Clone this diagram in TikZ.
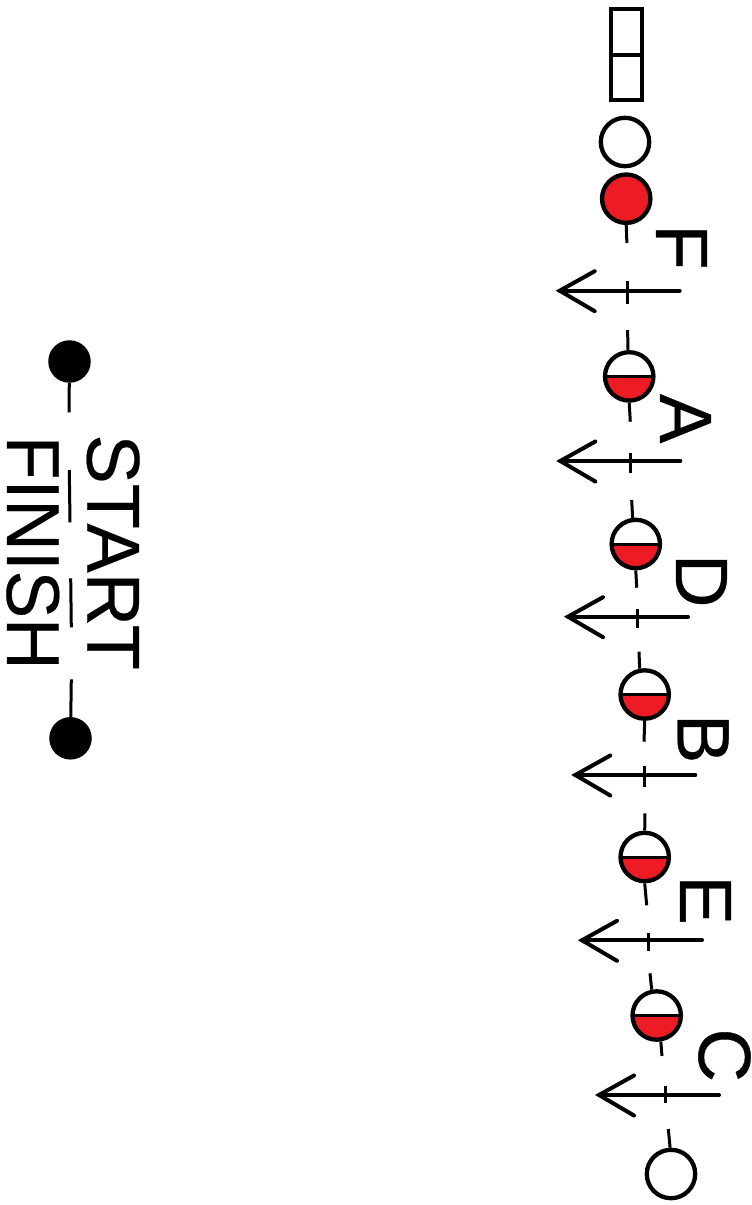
\documentclass[tikz,border=0pt]{standalone}
\usepackage{fontspec}
\setmainfont{Liberation Sans}
\newfontfamily\wordfont[FakeBold=0.3]{Liberation Sans}
\newfontfamily\letterfont[FakeBold=0.5]{Liberation Sans}
\definecolor{fillred}{HTML}{ED1C24}
\tikzset{
  ring/.style={circle,draw=black,line width=4.3pt,minimum size=48.4pt,inner sep=0pt,fill=white},
  fullred/.style={ring,fill=fillred},
  halfred/.style={ring,path picture={
    \fill[fillred] (path picture bounding box.west) rectangle (path picture bounding box.south east);
    \draw[black,line width=3pt] (path picture bounding box.west) -- (path picture bounding box.east);}},
  dot/.style={circle,fill=black,draw=none,minimum size=42.5pt,inner sep=0pt},
  cell/.style={rectangle,draw=black,line width=4.2pt,minimum width=30.8pt,inner sep=0pt},
  stub/.style={draw=black,line width=3pt},
  shaft/.style={draw=black,line width=4pt,line cap=round,line join=miter},
  tick/.style={draw=black,line width=3pt},
  big/.style={rotate=-90,anchor=base west,inner sep=0pt,outer sep=0pt},
  word/.style={big,font=\wordfont\fontsize{75}{75}\selectfont},
  letter/.style={big,font=\letterfont\fontsize{74}{74}\selectfont}
}
\newcommand{\arrowrow}[6]{%
  \coordinate (#1tip) at (#2+3,#3);
  \coordinate (#1tail) at (#2+123,#3);
  \coordinate (#1up) at (#2+38,#3-19.5);
  \coordinate (#1dn) at (#2+38,#3+20.5);
  \coordinate (#1ta) at (#4,#5);
  \coordinate (#1tb) at (#4,#6);
  \draw[shaft] (#1tail) -- (#1tip);
  \draw[shaft] (#1up) -- (#1tip) -- (#1dn);
  \draw[tick] (#1ta) -- (#1tb);
}
\newcommand{\stubline}[3]{%
  \coordinate (#2) at #3;
  \draw[stub] (#1) -- (#2);
}
\begin{document}
\begin{tikzpicture}[x=1pt,y=-1pt]
\useasboundingbox (0,0) rectangle (752,1205);
% boxes
\node[cell,minimum height=45.7pt] (boxa) at (626.6,32.2) {};
\node[cell,minimum height=44.7pt] (boxb) at (626.6,77.35) {};
% circles
\node[ring] (open1) at (625,142) {};
\node[fullred] (nF) at (626.2,198.7) {};
\node[halfred] (nA) at (629.2,376.4) {};
\node[halfred] (nD) at (635.8,544) {};
\node[halfred] (nB) at (644.7,694.5) {};
\node[halfred] (nE) at (644.7,857) {};
\node[halfred] (nC) at (656.7,1015.5) {};
\node[ring] (open2) at (671,1174) {};
% stubs
\stubline{nF.270}{fFd}{(626.9,243)}
\stubline{nA.93}{fAu}{(627.7,330)}
\stubline{nA.270}{fAd}{(630.3,421.7)}
\stubline{nD.97}{fDu}{(631.7,500)}
\stubline{nD.270}{fDd}{(636.7,587.7)}
\stubline{nB.101}{fBu}{(639,651.7)}
\stubline{nB.270}{fBd}{(644,741.7)}
\stubline{nE.90}{fEu}{(645,813.3)}
\stubline{nE.270}{fEd}{(646.7,905.3)}
\stubline{nC.101}{fCu}{(650,973.3)}
\stubline{nC.279}{fCd}{(662,1056)}
\stubline{open2.92}{fEnd}{(668.3,1129)}
% arrows
\arrowrow{aF}{556.7}{290.7}{627}{280.7}{303.7}
\arrowrow{aA}{557.3}{461}{630.7}{453.3}{473.3}
\arrowrow{aD}{565}{616.7}{637.7}{609.3}{627.7}
\arrowrow{aB}{572.3}{775}{644.3}{765.7}{787.3}
\arrowrow{aE}{579}{940.3}{648.7}{932.7}{950.7}
\arrowrow{aC}{596}{1095}{665.3}{1086}{1103.3}
% letters
\node[letter] (lF) at (656,224.5) {F};
\node[letter] (lA) at (660,394) {A};
\node[letter] (lD) at (676,554) {D};
\node[letter] (lB) at (677.7,714) {B};
\node[letter] (lE) at (680,875.5) {E};
\node[letter] (lC) at (699,1028.5) {C};
% start / finish
\node[dot] (start) at (69.5,361.5) {};
\node[dot] (finish) at (70.5,738.3) {};
\node[word,xscale=0.985] (tstart) at (87.3,434.5) {START};
\node[word,xscale=0.95] (tfinish) at (7,436) {FINISH};
\coordinate (s1) at (69,412.3);
\draw[stub] (start) -- (s1);
\coordinate (m1a) at (69.3,470);
\coordinate (m1b) at (70,522.3);
\draw[stub] (m1a) -- (m1b);
\coordinate (m2a) at (70.7,578.3);
\coordinate (m2b) at (71.3,627.3);
\draw[stub] (m2a) -- (m2b);
\coordinate (f1) at (71.3,679.3);
\draw[stub] (finish) -- (f1);
\end{tikzpicture}
\end{document}
